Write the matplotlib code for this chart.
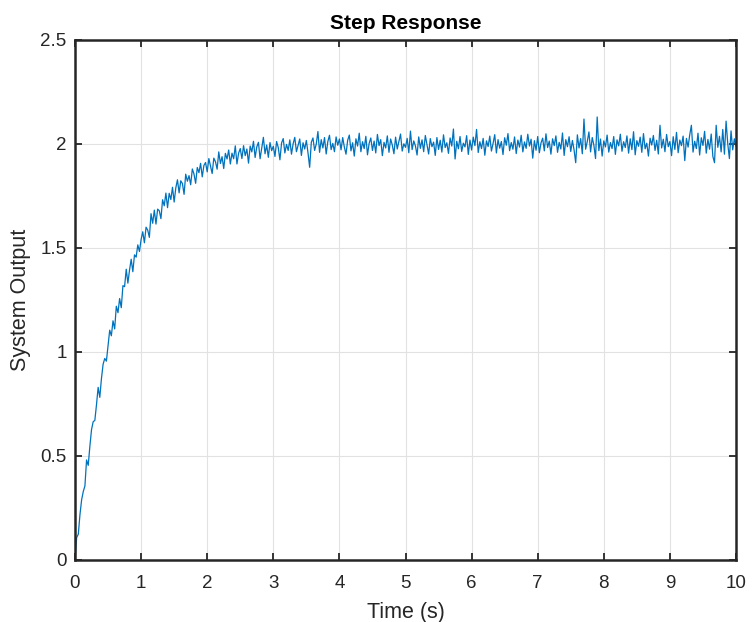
import numpy as np
import matplotlib
matplotlib.use("Agg")
import matplotlib.pyplot as plt

plt.rcParams['font.family'] = ['Liberation Sans', 'DejaVu Sans']

t_start, t_stop, n_pts = 0.0, 10.0, 401
output = [
    0.000, 0.108, 0.124, 0.218, 0.289, 0.329, 0.356, 0.481, 0.455, 0.547,
    0.627, 0.665, 0.671, 0.746, 0.830, 0.782, 0.872, 0.941, 0.969, 0.956,
    1.031, 1.105, 1.078, 1.150, 1.111, 1.220, 1.189, 1.257, 1.213, 1.319,
    1.314, 1.398, 1.331, 1.394, 1.446, 1.386, 1.467, 1.456, 1.515, 1.483,
    1.541, 1.578, 1.525, 1.600, 1.586, 1.551, 1.665, 1.619, 1.682, 1.615,
    1.687, 1.679, 1.641, 1.732, 1.703, 1.764, 1.694, 1.763, 1.733, 1.792,
    1.721, 1.789, 1.828, 1.765, 1.823, 1.810, 1.758, 1.855, 1.821, 1.848,
    1.804, 1.880, 1.856, 1.811, 1.887, 1.862, 1.907, 1.842, 1.897, 1.911,
    1.866, 1.930, 1.894, 1.858, 1.932, 1.915, 1.879, 1.962, 1.906, 1.939,
    1.882, 1.955, 1.928, 1.971, 1.904, 1.956, 1.929, 1.991, 1.904, 1.956,
    1.978, 1.930, 1.992, 1.944, 1.976, 1.908, 1.990, 1.962, 2.013, 1.935,
    1.986, 2.008, 1.929, 1.981, 2.032, 1.953, 1.995, 1.936, 2.007, 1.968,
    1.989, 1.940, 2.012, 1.983, 1.924, 2.005, 2.026, 1.957, 1.998, 1.969,
    2.020, 1.951, 2.001, 2.032, 1.963, 1.994, 2.024, 1.945, 2.006, 1.976,
    2.017, 1.957, 1.888, 2.008, 2.029, 1.969, 2.000, 2.060, 1.960, 2.021,
    1.981, 2.031, 1.952, 2.012, 2.042, 1.973, 2.003, 1.963, 2.034, 1.994,
    2.024,
    1.972, 2.031, 1.985, 1.951, 2.018, 2.043, 1.967, 2.006, 1.942, 2.025,
    1.990, 2.052, 1.963, 2.011, 1.978, 2.037, 1.948, 2.003, 2.029, 1.969,
    2.014, 1.957, 2.046, 1.992, 2.021, 1.944, 2.008, 1.981, 2.039, 1.960,
    2.024, 1.995, 1.953, 2.033, 1.976, 2.012, 2.048, 1.966, 2.001, 1.984,
    2.027, 1.958, 2.062, 1.973, 2.015, 1.991, 1.947, 2.034, 1.979, 2.020,
    1.963, 2.041, 1.996, 1.952, 2.026, 1.987, 2.009, 1.945, 2.031, 1.974,
    2.018, 1.961, 2.044, 1.983, 2.006, 1.955, 2.029, 1.990, 2.072, 1.928,
    2.013, 1.977, 2.036, 1.964, 2.004, 1.986, 2.040, 1.950, 2.019, 1.971,
    2.033, 1.992, 2.070, 1.959, 2.011, 1.978, 2.027, 1.946, 2.015, 1.988,
    2.038, 1.966, 2.003, 2.045, 1.957, 2.021, 1.980, 2.012, 1.949, 2.030,
    1.994, 2.050, 1.968, 2.007, 1.975, 2.034, 1.954, 2.019, 1.985, 2.042,
    1.962, 2.010, 1.979, 2.047, 1.990, 2.023, 1.932, 2.016, 1.970, 2.036,
    1.958, 2.005, 2.028, 1.967, 2.049, 1.983, 2.014, 1.951, 2.025, 1.992,
    2.039, 1.960, 2.008, 1.976, 2.053, 1.945, 2.021, 1.987, 2.035, 1.964,
    2.017, 1.972, 1.910, 2.044, 1.981, 2.026, 1.953, 2.120, 1.975, 2.012,
    2.058, 1.962, 2.031, 1.994, 1.930, 2.130, 1.968, 2.024, 1.942, 2.015,
    1.986, 2.043, 1.961, 2.007, 1.978, 2.036, 1.950, 2.020, 1.991, 2.047,
    1.965, 2.011, 1.983, 2.039, 1.956, 2.025, 1.973, 2.059, 1.948, 2.016,
    1.989, 2.033, 1.960, 2.050, 1.977, 2.004, 1.942, 2.028, 1.995, 2.041,
    1.969, 2.018, 1.952, 2.090, 1.981, 2.023, 1.963, 2.046, 1.987, 2.012,
    1.944, 2.035, 1.974, 2.056, 1.958, 2.019, 1.992, 2.038, 1.920, 2.027,
    1.985, 2.044, 2.090, 1.961, 2.013, 1.978, 2.052, 1.947, 2.030, 1.993,
    2.061, 1.956, 2.022, 1.975, 2.048, 1.940, 1.910, 2.090, 1.984, 2.037,
    1.962, 2.070, 1.951, 2.110, 2.002, 1.930, 2.063, 1.972, 2.025, 1.990,
]
time = np.linspace(t_start, t_stop, n_pts)

x_ticks = [0, 1, 2, 3, 4, 5, 6, 7, 8, 9, 10]
y_ticks = [0, 0.5, 1, 1.5, 2, 2.5]
y_tick_labels = ['0', '0.5', '1', '1.5', '2', '2.5']

fig = plt.figure(figsize=(7.53, 6.22), dpi=100)
ax = fig.add_axes([75/753, 62/622, 661/753, 520/622])

ax.plot(time, output, color='#0072BD', linewidth=0.9)

ax.set_xlim(0, 10)
ax.set_ylim(0, 2.5)
ax.set_xticks(x_ticks)
ax.set_yticks(y_ticks)
ax.set_yticklabels(y_tick_labels)
ax.grid(True, color='#e2e2e2', linewidth=0.8)
ax.set_axisbelow(True)

ax.tick_params(direction='in', length=5, width=1.3, top=True, right=True,
               labelsize=13.5, colors='#262626')
ax.tick_params(axis='x', pad=11)
ax.tick_params(axis='y', pad=6)
for sp in ax.spines.values():
    sp.set_color('#262626')
    sp.set_linewidth(1.8)

ax.set_xlabel('Time (s)', fontsize=15.5, color='#262626', labelpad=7)
ax.set_ylabel('System Output', fontsize=15.5, color='#262626', labelpad=7)
ax.set_title('Step Response', fontsize=15, fontweight='bold', color='black', pad=8)

fig.savefig('out.png', dpi=100)
